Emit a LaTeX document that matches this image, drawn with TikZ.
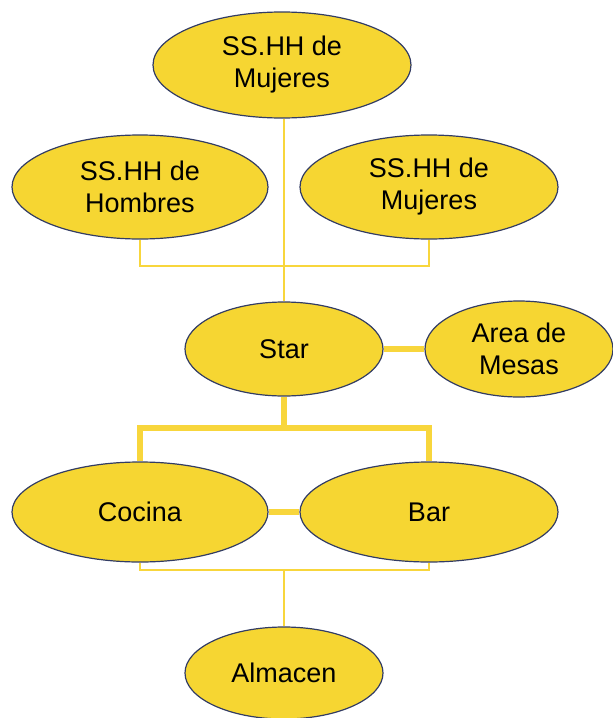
\documentclass[tikz,border=0pt]{standalone}
\usepackage{fontspec}
\setmainfont{Liberation Sans}
\usetikzlibrary{shapes.geometric}
\definecolor{roomyellow}{RGB}{246,214,50}
\definecolor{roomedge}{RGB}{50,60,100}
\definecolor{linkyellow}{RGB}{248,214,60}

\tikzset{
  room/.style={ellipse,draw=roomedge,line width=0.6pt,fill=roomyellow,
    inner sep=0pt,align=center,font=\fontsize{13.5}{16}\selectfont},
  thinlink/.style={linkyellow,line width=0.9pt},
  thicklink/.style={linkyellow,line width=2.6pt}
}

\begin{document}
\begin{tikzpicture}[x=0.5pt,y=-0.5pt]
  \useasboundingbox (0,0) rectangle (613,718);

  % junction points of the links
  \coordinate (upj) at (284,266);
  \coordinate (midj) at (284,428);
  \coordinate (lowj) at (284,570);

  % rooms
  \node[room,minimum width=129pt,minimum height=53pt] (mujtop) at (282,65) {SS.HH de\\Mujeres};
  \node[room,minimum width=128pt,minimum height=52pt] (hombres) at (140,187) {SS.HH de\\Hombres};
  \node[room,minimum width=129pt,minimum height=52pt] (mujeres) at (429,187) {SS.HH de\\Mujeres};
  \node[room,minimum width=99pt,minimum height=47pt] (star) at (284,349) {Star};
  \node[room,minimum width=94pt,minimum height=48pt] (mesas) at (519,349) {Area de\\Mesas};
  \node[room,minimum width=128pt,minimum height=50pt] (cocina) at (140,512) {Cocina};
  \node[room,minimum width=129pt,minimum height=50pt] (bar) at (429,512) {Bar};
  \node[room,minimum width=99pt,minimum height=46pt] (almacen) at (284,673) {Almacen};

  % top: the three toilets
  \draw[thinlink] (star.north) -- (star.north |- mujtop.south);
  \draw[thinlink] (hombres.south) |- (upj) -| (mujeres.south);

  % star to the tables and to kitchen and bar
  \draw[thicklink] (star.east) -- (mesas.west);
  \draw[thicklink] (star.south) -- (midj);
  \draw[thicklink] (cocina.north) |- (midj) -| (bar.north);
  \draw[thicklink] (cocina.east) -- (bar.west);

  % store below
  \draw[thinlink] (cocina.south) |- (lowj) -| (bar.south);
  \draw[thinlink] (lowj) -- (almacen.north);
\end{tikzpicture}
\end{document}
